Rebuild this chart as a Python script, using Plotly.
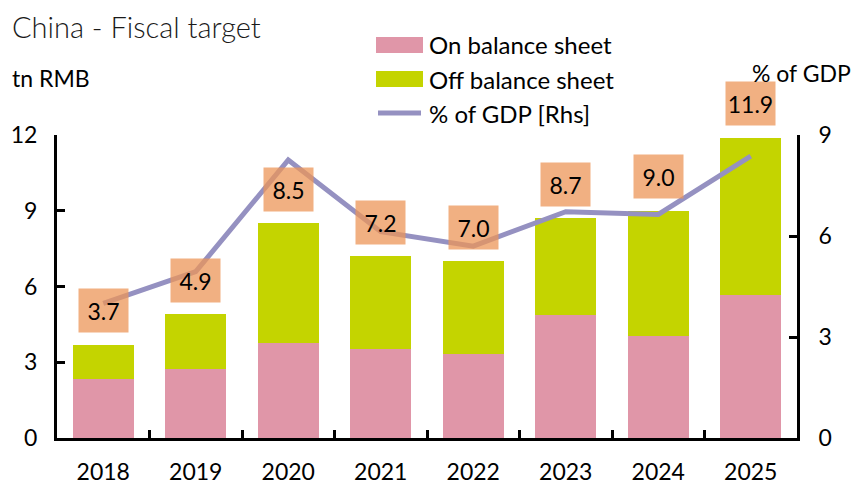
import plotly.graph_objects as go

years = ["2018", "2019", "2020", "2021", "2022", "2023", "2024", "2025"]
on_balance = [2.34, 2.72, 3.75, 3.54, 3.34, 4.86, 4.04, 5.65]
off_balance = [1.36, 2.18, 4.75, 3.66, 3.66, 3.84, 4.96, 6.25]
totals = [3.7, 4.9, 8.5, 7.2, 7.0, 8.7, 9.0, 11.9]
gdp_pct = [4.0, 4.94, 8.26, 6.13, 5.70, 6.72, 6.64, 8.37]
left_ticks = [0, 3, 6, 9, 12]
right_ticks = [0, 3, 6, 9]

PINK = "#E096A8"
GREEN = "#C4D400"
LINE = "#9591C1"
BOX = "rgba(236,150,88,0.75)"
FONT = "Lato"

W, H = 858, 485
L, R, T, B = 57, 797, 135, 438


def px(x):
    return (x - L) / (R - L)


def py(y):
    return (B - y) / (B - T)


fig = go.Figure()
fig.add_trace(go.Bar(x=years, y=on_balance, name="On balance sheet",
                     marker=dict(color=PINK, line=dict(width=0))))
fig.add_trace(go.Bar(x=years, y=off_balance, name="Off balance sheet",
                     marker=dict(color=GREEN, line=dict(width=0))))
fig.add_trace(go.Scatter(x=years, y=gdp_pct, name="% of GDP [Rhs]", yaxis="y2",
                         mode="lines", line=dict(color=LINE, width=5)))

annotations = []
for i, tot in enumerate(totals):
    annotations.append(dict(x=i, y=tot, xref="x", yref="y", yshift=34,
                            text=f"{tot:.1f}", showarrow=False, width=47, height=41,
                            bgcolor=BOX, font=dict(family=FONT, size=23, color="black"),
                            xanchor="center", yanchor="middle"))

annotations += [
    dict(x=px(10), y=py(27), xref="paper", yref="paper", text="China - Fiscal target",
         showarrow=False, xanchor="left", yanchor="middle",
         font=dict(family=FONT, size=29, color="#1a1a1a", weight=300)),
    dict(x=px(10), y=py(78), xref="paper", yref="paper", text="tn RMB",
         showarrow=False, xanchor="left", yanchor="middle",
         font=dict(family=FONT, size=23, color="black")),
    dict(x=px(853), y=py(73), xref="paper", yref="paper", text="% of GDP",
         showarrow=False, xanchor="right", yanchor="middle",
         font=dict(family=FONT, size=23, color="black")),
]

legend_rows = [("On balance sheet", PINK, "rect", 45), ("Off balance sheet", GREEN, "rect", 79),
               ("% of GDP [Rhs]", LINE, "line", 113)]
shapes = []
for name, col, kind, yc in legend_rows:
    if kind == "rect":
        shapes.append(dict(type="rect", xref="paper", yref="paper", x0=px(376), x1=px(423),
                           y0=py(yc - 8), y1=py(yc + 8), fillcolor=col, line=dict(width=0)))
    else:
        shapes.append(dict(type="line", xref="paper", yref="paper", x0=px(378), x1=px(421),
                           y0=py(yc), y1=py(yc), line=dict(color=col, width=5)))
    annotations.append(dict(x=px(427), y=py(yc), xref="paper", yref="paper", text=name,
                            showarrow=False, xanchor="left", yanchor="middle",
                            font=dict(family=FONT, size=24, color="black")))

fig.update_layout(
    width=W, height=H, autosize=False,
    margin=dict(l=L, r=W - R, t=T, b=H - B, pad=0),
    paper_bgcolor="white", plot_bgcolor="white",
    barmode="stack", bargap=0.34,
    showlegend=False,
    font=dict(family=FONT, size=23, color="black"),
    xaxis=dict(type="category", range=[-0.5, len(years) - 0.5], showline=True,
               linecolor="black", linewidth=3,
               ticks="inside", ticklen=8, tickwidth=3, tickcolor="black",
               tickson="boundaries", showgrid=False, automargin=False,
               tickfont=dict(size=23), ticklabelstandoff=11),
    yaxis=dict(range=[0, 12], tickvals=left_ticks, showline=True, linecolor="black",
               linewidth=3, ticks="inside", ticklen=8, tickwidth=3, tickcolor="black",
               showgrid=False, zeroline=False, automargin=False,
               tickfont=dict(size=23), ticklabelstandoff=12),
    yaxis2=dict(range=[0, 9], tickvals=right_ticks, overlaying="y", side="right",
                showline=True, linecolor="black", linewidth=3, ticks="inside", ticklen=8,
                tickwidth=3, tickcolor="black", showgrid=False, zeroline=False,
                automargin=False, tickfont=dict(size=23), ticklabelstandoff=14),
    annotations=annotations,
    shapes=shapes,
)

fig.write_html("out.html", config={"displayModeBar": False},
               post_script="document.body.style.margin='0';document.body.style.overflow='hidden';")
